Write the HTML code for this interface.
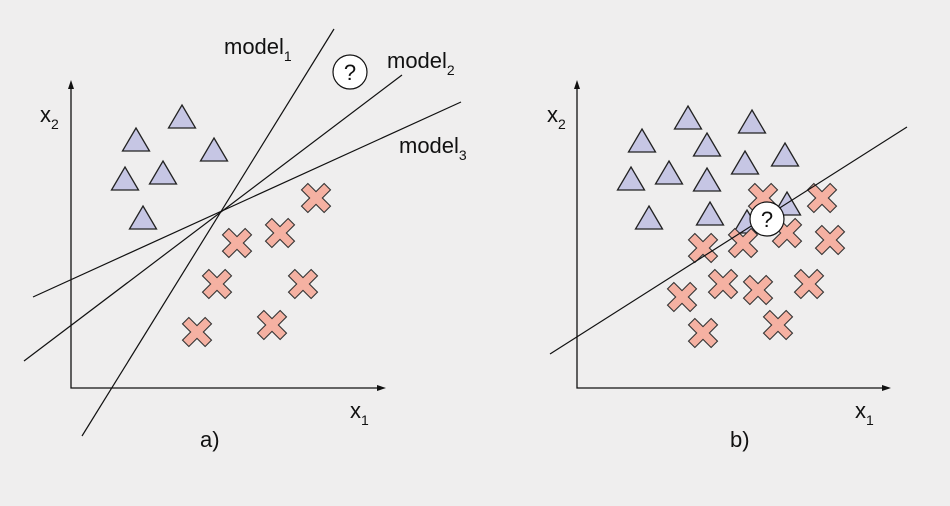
<!DOCTYPE html>
<html><head><meta charset="utf-8"><style>
html,body{margin:0;padding:0;background:#efeeee;}
svg{display:block}
text{font-family:"Liberation Sans",sans-serif;fill:#111}
</style></head><body>
<svg width="950" height="506" viewBox="0 0 950 506" xmlns="http://www.w3.org/2000/svg">
<defs>
<path id="tri" d="M0,-23 L13.5,0 L-13.5,0 Z" fill="#c6c6e4" stroke="#222" stroke-width="1.3"/>
<path id="x" transform="rotate(45)" d="M-4.5,-16 H4.5 V-4.5 H16 V4.5 H4.5 V16 H-4.5 V4.5 H-16 V-4.5 H-4.5 Z" fill="#f5b1a2" stroke="#333" stroke-width="1.1"/>
</defs>
<g stroke="#111" stroke-width="1.3" fill="none">
<path d="M71,83 V388 H383"/>
<path d="M577,83 V388 H888"/>
</g>
<path d="M386,388 l-9,-3 v6 z" fill="#111"/>
<path d="M891,388 l-9,-3 v6 z" fill="#111"/>
<path d="M71,80 l-3,9 h6 z" fill="#111"/>
<path d="M577,80 l-3,9 h6 z" fill="#111"/>
<use href="#tri" x="182" y="128"/><use href="#tri" x="136" y="151"/><use href="#tri" x="214" y="161"/>
<use href="#tri" x="125" y="190"/><use href="#tri" x="163" y="184"/><use href="#tri" x="143" y="229"/>
<use href="#x" x="316" y="198"/><use href="#x" x="280" y="233"/><use href="#x" x="237" y="243"/>
<use href="#x" x="217" y="284"/><use href="#x" x="303" y="284"/><use href="#x" x="197" y="332"/><use href="#x" x="272" y="325"/>
<g stroke="#111" stroke-width="1.2">
<line x1="82" y1="436" x2="334" y2="29"/>
<line x1="24" y1="361" x2="402" y2="75"/>
<line x1="33" y1="297" x2="461" y2="102"/>
</g>
<circle cx="350" cy="72" r="17" fill="#fff" stroke="#111" stroke-width="1.2"/>
<text x="350" y="80" font-size="22" text-anchor="middle">?</text>
<text x="224" y="54" font-size="22">model<tspan font-size="14" dy="7">1</tspan></text>
<text x="387" y="68" font-size="22">model<tspan font-size="14" dy="7">2</tspan></text>
<text x="399" y="153" font-size="22">model<tspan font-size="14" dy="7">3</tspan></text>
<text x="40" y="122" font-size="22">x<tspan font-size="14" dy="7">2</tspan></text>
<text x="350" y="418" font-size="22">x<tspan font-size="14" dy="7">1</tspan></text>
<text x="200" y="447" font-size="22">a)</text>
<use href="#tri" x="688" y="129"/><use href="#tri" x="752" y="133"/><use href="#tri" x="642" y="152"/>
<use href="#tri" x="707" y="156"/><use href="#tri" x="785" y="166"/><use href="#tri" x="745" y="174"/>
<use href="#tri" x="631" y="190"/><use href="#tri" x="669" y="184"/><use href="#tri" x="707" y="191"/>
<use href="#tri" x="649" y="229"/><use href="#tri" x="710" y="225"/><use href="#tri" x="787" y="215"/>
<use href="#x" x="763" y="198"/>
<use href="#tri" x="747" y="233"/>
<use href="#x" x="822" y="198"/><use href="#x" x="787" y="233"/><use href="#x" x="743" y="243"/>
<use href="#x" x="703" y="248"/><use href="#x" x="830" y="240"/><use href="#x" x="723" y="284"/>
<use href="#x" x="758" y="290"/><use href="#x" x="809" y="284"/><use href="#x" x="682" y="297"/>
<use href="#x" x="703" y="333"/><use href="#x" x="778" y="325"/>
<line x1="550" y1="354" x2="907" y2="127" stroke="#111" stroke-width="1.2"/>
<circle cx="767" cy="219" r="17" fill="#fff" stroke="#111" stroke-width="1.2"/>
<text x="767" y="227" font-size="22" text-anchor="middle">?</text>
<text x="547" y="122" font-size="22">x<tspan font-size="14" dy="7">2</tspan></text>
<text x="855" y="418" font-size="22">x<tspan font-size="14" dy="7">1</tspan></text>
<text x="730" y="447" font-size="22">b)</text>
</svg>
</body></html>
